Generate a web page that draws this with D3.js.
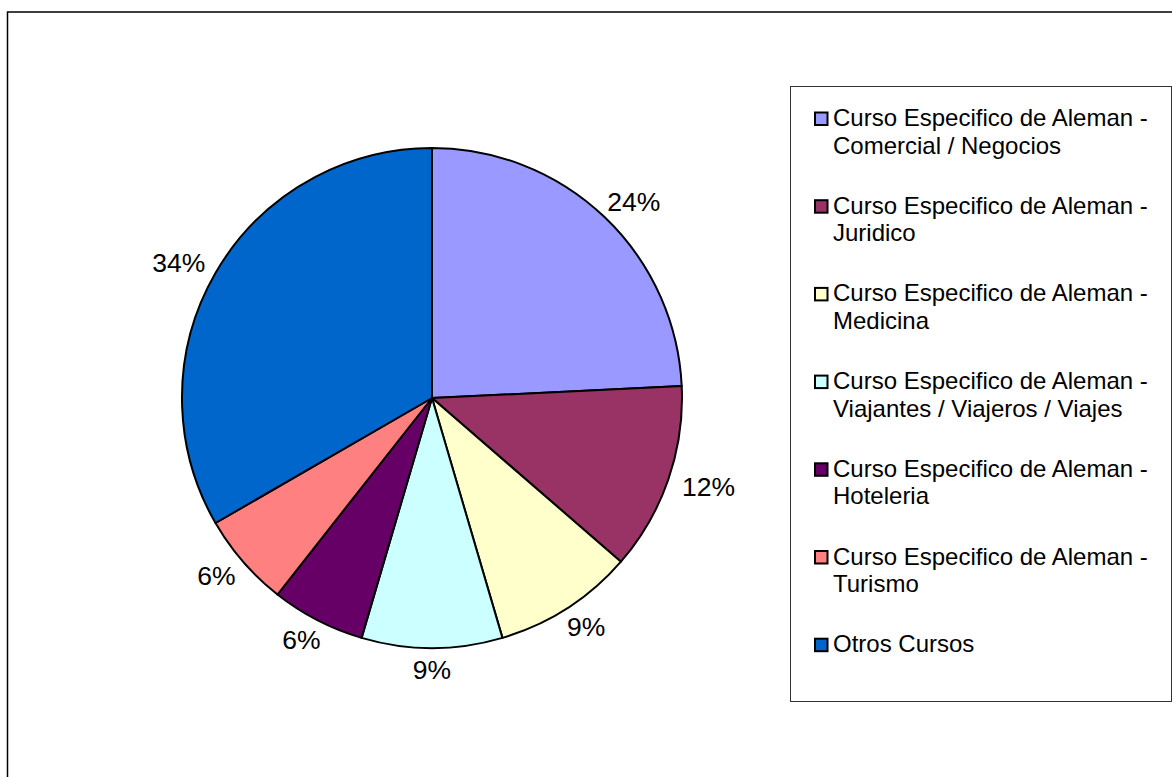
<!DOCTYPE html>
<html>
<head>
<meta charset="utf-8">
<script src="https://cdn.jsdelivr.net/npm/d3@7"></script>
<style>
  html, body { margin: 0; padding: 0; background: #fff; }
  svg { display: block; }
  text { font-family: "Liberation Sans", Arial, sans-serif; fill: #000; }
</style>
</head>
<body>
<svg id="chart" width="1172" height="777"></svg>
<script>
// ---- data ----
const categories = [
  "Curso Especifico de Aleman - Comercial / Negocios",
  "Curso Especifico de Aleman - Juridico",
  "Curso Especifico de Aleman - Medicina",
  "Curso Especifico de Aleman - Viajantes / Viajeros / Viajes",
  "Curso Especifico de Aleman - Hoteleria",
  "Curso Especifico de Aleman - Turismo",
  "Otros Cursos"
];
const values = [8, 4, 3, 3, 2, 2, 11];
const percentLabels = ["24%", "12%", "9%", "9%", "6%", "6%", "34%"];
const colors = ["#9999FF", "#993366", "#FFFFCC", "#CCFFFF", "#660066", "#FF8080", "#0066CC"];

// ---- layout ----
const svg = d3.select("#chart");
const cx = 432, cy = 398, r = 250;

// outer chart frame (extends past the viewport on right/bottom)
svg.append("rect")
  .attr("x", 7.5).attr("y", 12).attr("width", 1200).attr("height", 800)
  .attr("fill", "none").attr("stroke", "#000").attr("stroke-width", 1.5);

const pie = d3.pie().value(d => d).sort(null).startAngle(0).endAngle(2 * Math.PI);
const arcs = pie(values);
const arc = d3.arc().innerRadius(0).outerRadius(r);

const g = svg.append("g").attr("transform", `translate(${cx},${cy})`);
g.selectAll("path.slice").data(arcs).enter().append("path")
  .attr("class", "slice")
  .attr("d", arc)
  .attr("fill", (d, i) => colors[i])
  .attr("stroke", "#000")
  .attr("stroke-width", 2)
  .attr("stroke-linejoin", "round");

// percentage labels outside the pie
const labelFont = 26.5;
const lbl = g.selectAll("text.pct").data(arcs).enter().append("text")
  .attr("class", "pct")
  .style("font-size", labelFont + "px")
  .attr("text-anchor", "middle")
  .text((d, i) => percentLabels[i]);
lbl.each(function(d) {
  const a = (d.startAngle + d.endAngle) / 2;
  const dx = Math.sin(a), dy = -Math.cos(a);
  const w = this.getComputedTextLength();
  const h = labelFont * 0.72;
  const x = dx * (r + 16 + w / 2);
  const y = dy * (r + 12 + h / 2);
  d3.select(this).attr("x", x).attr("y", y + h / 2);
});

// legend
const lx = 790, ly = 86, lw = 381, lh = 615;
svg.append("rect")
  .attr("x", lx + 0.5).attr("y", ly + 0.5).attr("width", lw).attr("height", lh)
  .attr("fill", "#fff").attr("stroke", "#333").attr("stroke-width", 1);

const legendFont = 24;
const firstBaseline = 126, itemStep = 87.7, lineStep = 27.5;
const items = svg.selectAll("g.leg").data(categories).enter().append("g")
  .attr("class", "leg")
  .attr("transform", (d, i) => `translate(0,${firstBaseline + i * itemStep})`);
items.append("rect")
  .attr("x", 815).attr("y", -13.5).attr("width", 12.5).attr("height", 12.5)
  .attr("fill", (d, i) => colors[i])
  .attr("stroke", "#000").attr("stroke-width", 2);
items.each(function(d) {
  const idx = d.indexOf(" - ");
  const lines = idx >= 0 ? [d.slice(0, idx + 2), d.slice(idx + 3)] : [d];
  const t = d3.select(this).append("text")
    .attr("x", 833).attr("y", 0)
    .style("font-size", legendFont + "px");
  lines.forEach((ln, k) => {
    t.append("tspan").attr("x", 833).attr("y", k * lineStep).text(ln);
  });
});
</script>
</body>
</html>
